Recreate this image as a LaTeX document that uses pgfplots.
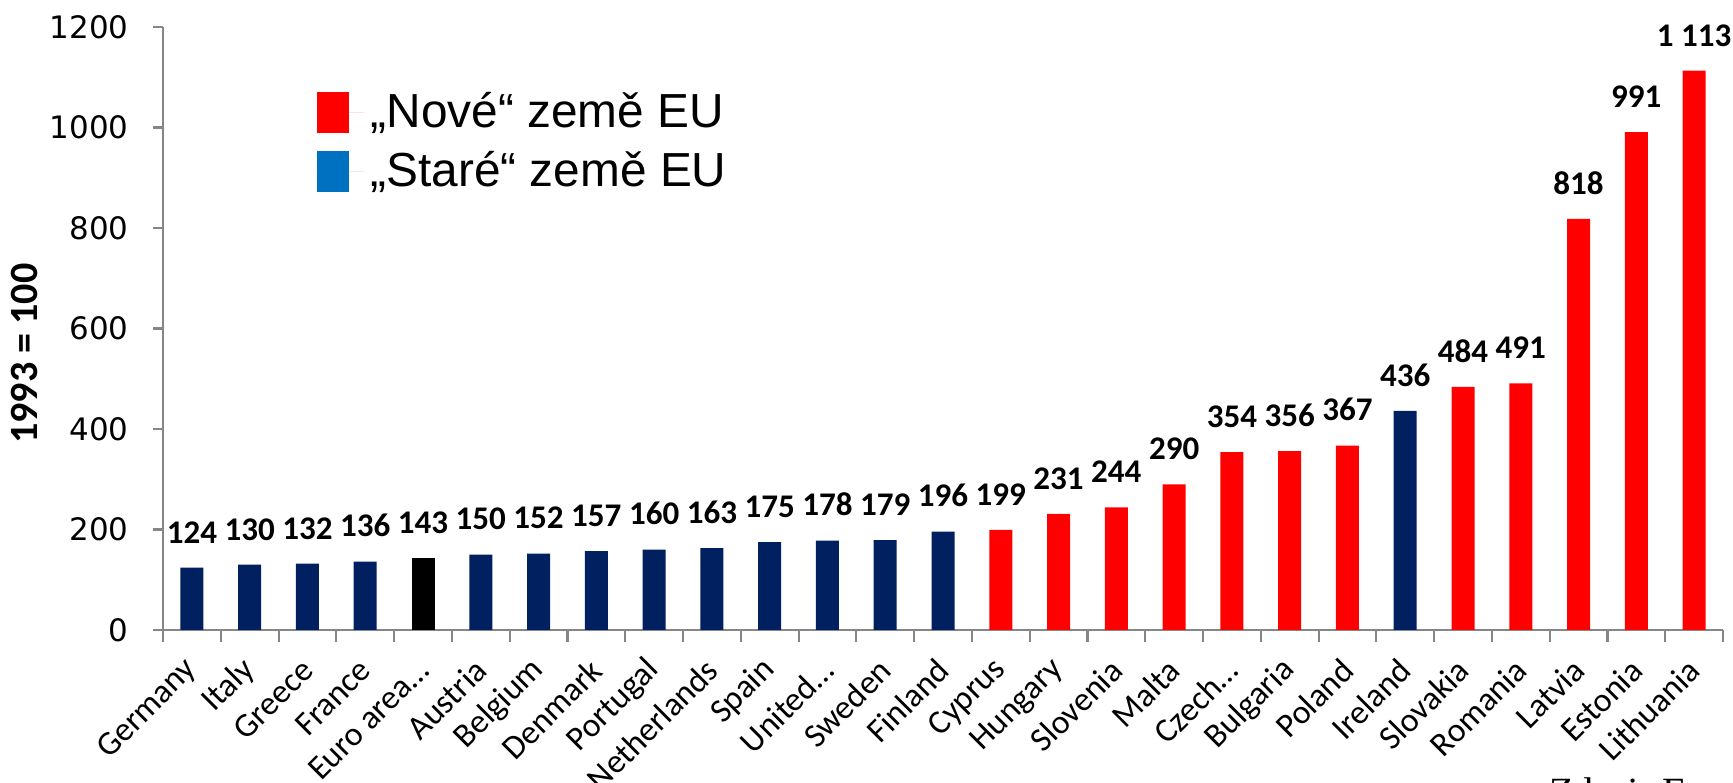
\documentclass[border=0pt]{standalone}
\usepackage{pgfplots}
\pgfplotsset{compat=1.18}
\usepackage{fontspec}
\setmainfont{Carlito}
\newfontfamily\dejavu{DejaVu Sans}
\newfontfamily\libsans{Liberation Sans}
\newfontfamily\libserif{Liberation Serif}
\definecolor{navy}{RGB}{0,32,96}
\definecolor{barred}{RGB}{255,0,0}
\definecolor{legblue}{RGB}{0,112,192}
\definecolor{axgray}{RGB}{134,134,134}
\begin{document}
\begin{tikzpicture}
\begin{axis}[
  at={(0,0)}, anchor=south west,
  scale only axis, width=15.6cm, height=6.03cm,
  xmin=-0.5, xmax=26.5, ymin=0, ymax=1200,
  ytick={0,200,...,1200},
  xtick={0,...,26},
  xticklabels={Germany,Italy,Greece,France,Euro area…,Austria,Belgium,Denmark,Portugal,Netherlands,Spain,United…,Sweden,Finland,Cyprus,Hungary,Slovenia,Malta,Czech…,Bulgaria,Poland,Ireland,Slovakia,Romania,Latvia,Estonia,Lithuania},
  minor xtick={-0.5,0.5,...,26.5},
  axis x line*=bottom, axis y line*=left,
  axis line style={axgray, line width=0.6pt, -},
  tick align=outside,
  major tick length=0.1cm, minor tick length=0.12cm,
  major x tick style={draw=none},
  minor x tick style={axgray, line width=0.6pt},
  y tick style={axgray, line width=0.6pt},
  /pgf/number format/assume math mode=true,
  /pgf/number format/1000 sep={},
  xticklabel style={font=\fontsize{9.6}{11}\selectfont, xshift=0.03cm, yshift=-0.22cm, rotate=45, anchor=east, inner sep=1pt},
  yticklabel style={font=\dejavu\fontsize{8.8}{10}\selectfont, xshift=-0.12cm},
  ylabel={1993 = 100},
  ylabel style={at={(axis description cs:-0.089,0.458)}, anchor=center, font=\bfseries\fontsize{11.4}{13}\selectfont},
  ybar, bar width=0.23cm, bar shift=0pt,
  nodes near coords={\pgfmathprintnumber[1000 sep={\ }]{\pgfplotspointmeta}},
  every node near coord/.append style={font=\bfseries\fontsize{9.4}{11}\selectfont, yshift=0.12cm, black},
  legend image code/.code={\path (0cm,0cm) -- (0.47cm,0cm); \fill[#1] (0cm,-0.205cm) rectangle (0.32cm,0.205cm);},
  legend style={at={(axis description cs:0.098,0.905)}, anchor=north west, draw=none, fill=none, inner sep=0pt, row sep=0.05cm, font=\libsans\fontsize{13.6}{16}\selectfont},
  legend cell align=left,
]
\addlegendimage{fill=barred, draw=none}
\addlegendimage{fill=legblue, draw=none}
\addplot[fill=navy, draw=none] coordinates {(0,124) (1,130) (2,132) (3,136) (5,150) (6,152) (7,157) (8,160) (9,163) (10,175) (11,178) (12,179) (13,196) (21,436)};
\addplot[fill=black, draw=none] coordinates {(4,143)};
\addplot[fill=barred, draw=none] coordinates {(14,199) (15,231) (16,244) (17,290) (18,354) (19,356) (20,367) (22,484) (23,491) (24,818) (25,991) (26,1113)};
\legend{„Nové“ země EU, „Staré“ země EU}
\end{axis}
\node[anchor=base west, font=\libserif\fontsize{11.4}{13}\selectfont] at (13.74cm,-1.76cm) {Zdroj: Eurostat};
\pgfresetboundingbox
\path[use as bounding box] (-1.63cm,-1.53cm) rectangle (15.70cm,6.30cm);
\end{tikzpicture}
\end{document}
